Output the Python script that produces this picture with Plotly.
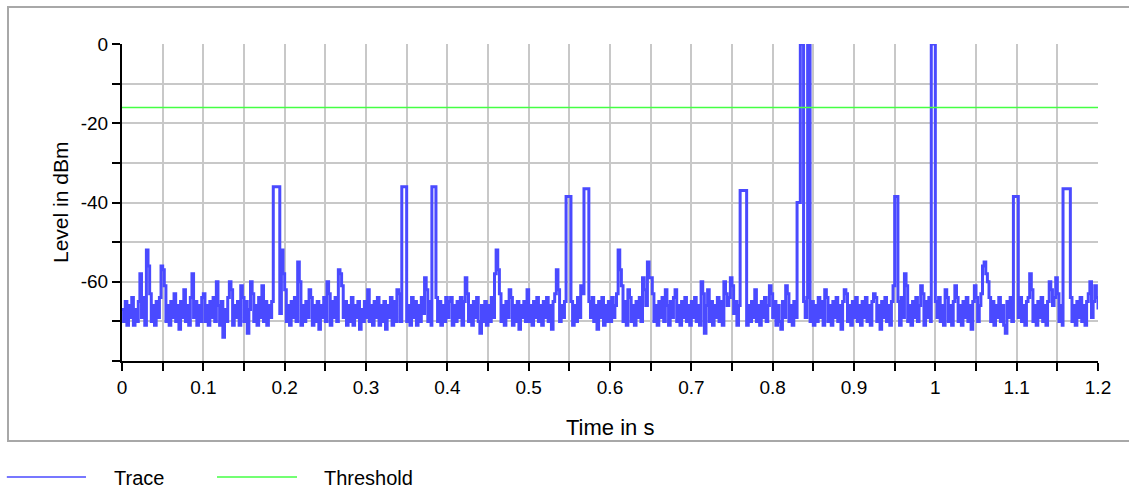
import numpy as np
import plotly.graph_objects as go

# Trace samples every 2 ms; each row covers 50 ms (25 samples)
SAMPLE_STEP_S = 0.002
noise_rows = [
    [-67, -70, -65, -71, -66, -69, -64, -71, -67, -70, -65, -58, -69, -64, -71, -52, -56, -63, -70, -66, -71, -65, -69, -64, -56],
    [-57, -61, -70, -66, -71, -65, -69, -63, -70, -66, -72, -65, -69, -62, -70, -66, -71, -64, -58, -69, -65, -71, -66, -70, -64],
    [-63, -70, -66, -71, -65, -69, -64, -70, -60, -66, -71, -65, -74, -67, -70, -64, -60, -62, -71, -66, -69, -65, -71, -61, -64],
    [-70, -65, -73, -67, -60, -63, -70, -66, -71, -64, -69, -61, -70, -65, -71, -66, -69, -65, -70, -64, -71, -66, -68, -52, -58],
    [-62, -70, -66, -71, -65, -69, -64, -70, -55, -60, -71, -66, -70, -65, -69, -62, -64, -71, -66, -70, -65, -72, -66, -69, -64],
    [-70, -60, -63, -71, -65, -69, -64, -70, -57, -58, -61, -69, -65, -71, -66, -70, -64, -71, -66, -69, -65, -72, -67, -70, -65],
    [-69, -62, -70, -66, -71, -65, -69, -64, -71, -66, -70, -65, -72, -66, -69, -64, -71, -65, -70, -62, -63, -70, -66, -71, -65],
    [-70, -66, -71, -64, -69, -65, -71, -66, -70, -64, -68, -59, -62, -70, -65, -71, -66, -69, -64, -70, -65, -71, -66, -70, -64],
    [-69, -65, -64, -71, -66, -70, -65, -69, -64, -71, -65, -59, -63, -70, -66, -71, -65, -69, -64, -70, -73, -66, -70, -65, -71],
    [-66, -70, -64, -69, -58, -52, -57, -63, -70, -66, -71, -65, -69, -62, -64, -71, -66, -70, -65, -72, -66, -69, -65, -70, -62],
    [-70, -66, -71, -65, -69, -64, -70, -66, -71, -65, -69, -64, -70, -66, -72, -65, -63, -57, -62, -70, -66, -69, -65, -71, -64],
    [-69, -65, -71, -66, -70, -64, -69, -61, -63, -70, -66, -71, -65, -69, -64, -70, -66, -72, -65, -69, -64, -71, -66, -70, -65],
    [-70, -64, -69, -66, -63, -52, -57, -61, -70, -65, -71, -62, -64, -70, -66, -71, -65, -69, -64, -70, -59, -62, -66, -55, -59],
    [-59, -63, -70, -66, -71, -65, -69, -64, -70, -62, -66, -71, -65, -69, -64, -62, -70, -66, -71, -65, -69, -64, -70, -66, -71],
    [-65, -69, -64, -70, -66, -71, -60, -63, -73, -66, -62, -70, -65, -71, -66, -69, -64, -70, -65, -71, -60, -63, -66, -64, -59],
    [-61, -68, -65, -71, -66, -70, -64, -69, -65, -71, -66, -70, -65, -69, -62, -70, -66, -71, -65, -69, -64, -70, -66, -61, -63],
    [-69, -65, -71, -66, -70, -72, -65, -69, -61, -63, -70, -66, -71, -65, -69, -64, -70, -66, -71, -65, -69, -64, -60, -70, -65],
    [-71, -66, -70, -64, -69, -65, -71, -62, -64, -70, -66, -71, -65, -69, -64, -70, -66, -72, -65, -62, -63, -70, -66, -71, -65],
    [-69, -64, -70, -66, -71, -65, -69, -64, -70, -66, -71, -65, -63, -64, -70, -66, -72, -65, -69, -64, -70, -66, -71, -65, -61],
    [-66, -70, -65, -71, -64, -69, -58, -61, -70, -66, -71, -65, -69, -64, -70, -66, -61, -63, -71, -65, -69, -64, -70, -66, -71],
    [-65, -69, -64, -70, -66, -71, -62, -64, -70, -66, -71, -65, -61, -64, -70, -66, -71, -65, -69, -64, -70, -66, -72, -65, -61],
    [-64, -70, -66, -63, -56, -55, -58, -60, -64, -70, -65, -71, -66, -69, -64, -70, -66, -71, -73, -65, -69, -64, -70, -66, -71],
    [-65, -69, -64, -70, -66, -71, -65, -64, -58, -62, -70, -66, -71, -65, -69, -64, -70, -66, -71, -65, -60, -62, -66, -64, -59],
    [-63, -70, -66, -71, -65, -73, -66, -69, -64, -70, -66, -71, -65, -69, -64, -70, -66, -71, -65, -63, -60, -69, -65, -61, -64],
]
noise_tail = [-67]

# Burst pulses: start time (s), end time (s), level (dBm)
pulse_start = [0.186, 0.344, 0.381, 0.546, 0.568, 0.760, 0.830, 0.834, 0.843, 0.950, 0.995, 1.096, 1.157]
pulse_end = [0.192, 0.348, 0.385, 0.550, 0.572, 0.766, 0.832, 0.837, 0.845, 0.953, 0.998, 1.101, 1.164]
pulse_level = [-36, -36, -36, -38.5, -36.5, -37, -40, 0, 0, -38.5, 0, -38.5, -36.5]

threshold_dbm = -16

x_range = [0, 1.2]
y_range = [-80, 0]
x_tick_values = [0, 0.1, 0.2, 0.3, 0.4, 0.5, 0.6, 0.7, 0.8, 0.9, 1.0, 1.1, 1.2]
x_tick_text = ["0", "0.1", "0.2", "0.3", "0.4", "0.5", "0.6", "0.7", "0.8", "0.9", "1", "1.1", "1.2"]
y_tick_values = [0, -20, -40, -60]
y_tick_text = ["0", "-20", "-40", "-60"]

TRACE_COLOR = "#4a4aff"
THRESHOLD_COLOR = "#44ff44"
GRID_COLOR = "#c8c8c8"
FONT = "Liberation Sans, Arial, sans-serif"

# Assemble the trace: noise samples outside pulses, plus flat pulse tops
noise_db = [v for row in noise_rows for v in row] + noise_tail
noise_t = np.round(np.arange(len(noise_db)) * SAMPLE_STEP_S, 4)
points = [
    (float(t), float(v)) for t, v in zip(noise_t, noise_db)
    if not any(s <= t <= e for s, e in zip(pulse_start, pulse_end))
]
for s, e, lvl in zip(pulse_start, pulse_end, pulse_level):
    points += [(s, lvl), (e, lvl)]
points.sort(key=lambda p: p[0])
trace_t = [p[0] for p in points]
trace_db = [p[1] for p in points]

fig = go.Figure()
# step-style rendering: each sample holds its level until the next one
fig.add_trace(go.Scatter(
    x=trace_t, y=trace_db, mode="lines", name="Trace",
    line=dict(color=TRACE_COLOR, width=3, shape="hv", simplify=False),
    showlegend=False,
))
fig.add_trace(go.Scatter(
    x=x_range, y=[threshold_dbm, threshold_dbm], mode="lines", name="Threshold",
    line=dict(color=THRESHOLD_COLOR, width=1.5), showlegend=False,
))

tick_common = dict(ticklen=8, tickwidth=2, tickcolor="black")

fig.update_layout(
    width=1129, height=489,
    margin=dict(l=122, r=31, t=44, b=128),
    paper_bgcolor="white", plot_bgcolor="white",
    font=dict(family=FONT, size=20, color="black"),
    showlegend=False,
    xaxis=dict(
        range=x_range, tickmode="array", tickvals=x_tick_values, ticktext=x_tick_text,
        ticks="outside", **tick_common,
        showline=True, linecolor="black", linewidth=2,
        showgrid=True, gridcolor=GRID_COLOR, gridwidth=1.5, zeroline=False,
        minor=dict(tick0=0, dtick=0.05, ticks="outside", ticklen=8, tickwidth=2,
                   tickcolor="black", showgrid=True, gridcolor=GRID_COLOR, gridwidth=1.5),
        tickfont=dict(size=19),
    ),
    yaxis=dict(
        range=y_range, tickmode="array", tickvals=y_tick_values, ticktext=y_tick_text,
        ticks="outside", **tick_common,
        showline=True, linecolor="black", linewidth=2,
        showgrid=True, gridcolor=GRID_COLOR, gridwidth=1.5, zeroline=False,
        minor=dict(tick0=0, dtick=10, ticks="outside", ticklen=8, tickwidth=2,
                   tickcolor="black", showgrid=True, gridcolor=GRID_COLOR, gridwidth=1.5),
        tickfont=dict(size=19),
    ),
    # companion axes carrying the inner half of the crossing tick marks
    xaxis2=dict(
        overlaying="x", anchor="y", side="bottom", range=x_range, matches="x",
        tickmode="array", tickvals=x_tick_values, ticks="inside", **tick_common,
        showticklabels=False, showgrid=False, showline=False, zeroline=False,
        minor=dict(tick0=0, dtick=0.05, ticks="inside", ticklen=8, tickwidth=2,
                   tickcolor="black", showgrid=False),
    ),
    yaxis2=dict(
        overlaying="y", anchor="x", side="left", range=y_range, matches="y",
        tickmode="array", tickvals=y_tick_values, ticks="inside", **tick_common,
        showticklabels=False, showgrid=False, showline=False, zeroline=False,
        minor=dict(tick0=0, dtick=10, ticks="inside", ticklen=8, tickwidth=2,
                   tickcolor="black", showgrid=False),
    ),
)

# Axis titles
fig.add_annotation(text="Time in s", xref="paper", yref="paper", x=0.5, y=-0.21,
                   xanchor="center", yanchor="middle", showarrow=False,
                   font=dict(size=22))
fig.add_annotation(text="Level in dBm", xref="paper", yref="paper", x=-0.063, y=0.5,
                   xanchor="center", yanchor="middle", textangle=-90, showarrow=False,
                   font=dict(size=21))

# Outer chart frame
fig.add_shape(type="rect", xref="paper", yref="paper",
              x0=-0.1168, x1=1.04, y0=-0.2524, y1=1.1167,
              line=dict(color="#a8a8a8", width=2), layer="below")

# Legend row beneath the frame
legend_y = -0.366
for name, color, x0, x1, tx in [("Trace", TRACE_COLOR, -0.118, -0.0369, -0.0102),
                                ("Threshold", THRESHOLD_COLOR, 0.0973, 0.1793, 0.2048)]:
    fig.add_shape(type="line", xref="paper", yref="paper", x0=x0, x1=x1,
                  y0=legend_y, y1=legend_y, line=dict(color=color, width=1.5))
    fig.add_annotation(text=name, xref="paper", yref="paper", x=tx, y=legend_y - 0.004,
                       xanchor="left", yanchor="middle", showarrow=False,
                       font=dict(size=20))

fig.write_html("out.html")
